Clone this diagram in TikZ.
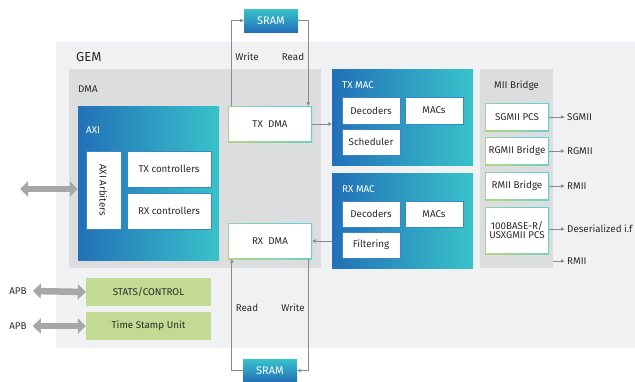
\documentclass[tikz,border=0pt]{standalone}
\usepackage{fontspec}
\setmainfont{Fira Sans}
\usetikzlibrary{arrows.meta,calc}
\definecolor{gembg}{HTML}{F0F1F3}
\definecolor{dmabg}{HTML}{DCDDDF}
\definecolor{gblue}{HTML}{2270B8}
\definecolor{gteal}{HTML}{38C3CB}
\definecolor{bgreen}{HTML}{A9D58A}
\definecolor{bteal}{HTML}{5ECFD8}
\definecolor{ibord}{HTML}{3D86C6}
\definecolor{boxgreen}{HTML}{C2DA92}
\definecolor{arrowgray}{HTML}{A6A7A9}
\definecolor{linegray}{HTML}{8A8A8A}
\definecolor{txt}{HTML}{2B2B2B}
\begin{document}
\begin{tikzpicture}[x=1pt,y=-1pt,font=\fontsize{9.8}{10.5}\selectfont,text=txt,
  area/.style={fill=#1,draw=none,inner sep=0pt},
  grad/.style={left color=gblue,right color=gteal,draw=none,inner sep=0pt},
  sramgrad/.style={top color=gteal,bottom color=gblue,draw=none,inner sep=0pt,text=white,minimum width=54pt,minimum height=23pt,font=\fontsize{11}{12}\selectfont},
  inbox/.style={fill=white,draw=ibord,line width=0.7pt,inner sep=0pt,align=center},
  gbox/.style={inner sep=0pt,align=center,left color=bgreen,right color=bteal,shading angle=135,
    path picture={\fill[white] ([shift={(1.3pt,-1.3pt)}]path picture bounding box.north west) rectangle ([shift={(-1.3pt,1.3pt)}]path picture bounding box.south east);}},
  greenbox/.style={fill=boxgreen,draw=none,inner sep=0pt,minimum width=125pt,minimum height=28pt},
  lbl/.style={inner sep=0pt},
  conn/.style={draw=linegray,line width=0.8pt,-{Triangle[length=3.5pt,width=3.5pt]}},
  bigarrow/.style={draw=arrowgray,line width=6.5pt,{Triangle[length=8pt,width=15pt]}-{Triangle[length=8pt,width=15pt]}}]
\useasboundingbox (0,0) rectangle (635,381);
% backgrounds
\node[area=gembg,minimum width=579pt,minimum height=306pt] (gem) at (345.5,195) {};
\node[lbl,anchor=west,font=\fontsize{13}{14}\selectfont] (gemlbl) at (76,57) {GEM};
\node[area=dmabg,minimum width=252pt,minimum height=199pt] (dma) at (195,168.5) {};
\node[lbl,anchor=west] (dmalbl) at (78,89) {DMA};
% AXI
\node[grad,minimum width=141pt,minimum height=154pt] (axi) at (148.5,183) {};
\node[lbl,anchor=west,text=white] (axilbl) at (86,130) {AXI};
\node[inbox,minimum width=35pt,minimum height=78pt] (arb) at (103.5,190) {\rotatebox{-90}{AXI Arbiters}};
\node[inbox,minimum width=84pt,minimum height=36pt] (txc) at (169,169) {TX controllers};
\node[inbox,minimum width=84pt,minimum height=36pt] (rxc) at (169,211) {RX controllers};
% DMA engines
\node[gbox,minimum width=84pt,minimum height=36pt] (txdma) at (270,124) {TX~~DMA};
\node[gbox,minimum width=84pt,minimum height=36pt] (rxdma) at (270,241) {RX~~DMA};
\node[sramgrad] (sramt) at (271,20.5) {SRAM};
\node[sramgrad] (sramb) at (270,370.5) {SRAM};
% TX MAC
\node[grad,minimum width=141pt,minimum height=96pt] (txmac) at (402.5,117) {};
\node[lbl,anchor=west,text=white] (txmaclbl) at (342,85) {TX MAC};
\node[inbox,minimum width=58pt,minimum height=27pt] (txdec) at (371,110.5) {Decoders};
\node[inbox,minimum width=58pt,minimum height=27pt] (txmacs) at (434,110.5) {MACs};
\node[inbox,minimum width=58pt,minimum height=26pt] (txsch) at (371,142) {Scheduler};
% RX MAC
\node[grad,minimum width=141pt,minimum height=95pt] (rxmac) at (402.5,220.5) {};
\node[lbl,anchor=west,text=white] (rxmaclbl) at (342,189) {RX MAC};
\node[inbox,minimum width=58pt,minimum height=26pt] (rxdec) at (371,214) {Decoders};
\node[inbox,minimum width=58pt,minimum height=26pt] (rxmacs) at (434,214) {MACs};
\node[inbox,minimum width=58pt,minimum height=26pt] (rxfil) at (371,245) {Filtering};
% MII bridge
\node[area=dmabg,minimum width=73pt,minimum height=199pt] (mii) at (516.5,168.5) {};
\node[lbl] (miilbl) at (516.5,86) {MII Bridge};
\node[gbox,minimum width=64pt,minimum height=28pt] (sgmii) at (517,117) {SGMII PCS};
\node[gbox,minimum width=64pt,minimum height=28pt] (rgmii) at (517,151) {RGMII Bridge};
\node[gbox,minimum width=64pt,minimum height=28pt] (rmii) at (517,186) {RMII Bridge};
\node[gbox,minimum width=64pt,minimum height=47pt,font=\fontsize{9.8}{9}\selectfont] (usx) at (517,230.5) {100BASE-R/\\USXGMII PCS};
\node[lbl,anchor=west] (o1) at (567,117) {SGMII};
\node[lbl,anchor=west] (o2) at (567,151) {RGMII};
\node[lbl,anchor=west] (o3) at (567,186) {RMII};
\node[lbl,anchor=west] (o4) at (567,229) {Deserialized i.f};
\node[lbl,anchor=west] (o5) at (567,261) {RMII};
\draw[conn] (sgmii.east) -- ([xshift=-2.5pt]o1.west);
\draw[conn] (rgmii.east) -- ([xshift=-2.5pt]o2.west);
\draw[conn] (rmii.east) -- ([xshift=-2.5pt]o3.west);
\draw[conn] (o4.west -| usx.east) -- ([xshift=-2.5pt]o4.west);
\draw[conn] (o5.west -| mii.east) -- ([xshift=-2.5pt]o5.west);
% stats
\node[greenbox] (stats) at (148.5,292) {STATS/CONTROL};
\node[greenbox] (tsu) at (148.5,326) {Time Stamp Unit};
\node[lbl] (apb1) at (18,291) {APB};
\node[lbl] (apb2) at (18,326) {APB};
\draw[bigarrow] ([xshift=6pt]apb1.east) -- (stats.west);
\draw[bigarrow] ([xshift=6pt]apb2.east) -- (tsu.west);
\coordinate (axiL) at (20,189);
\draw[bigarrow] (axiL) -- (axiL -| axi.west);
% connectors
\draw[conn] (txdma.east) -- (txdma.east -| txmac.west);
\draw[conn] (rxdma.east -| rxmac.west) -- (rxdma.east);
\draw[conn] ([xshift=4pt]txdma.north west) |- (sramt.west);
\draw[conn] (sramt.east) -| ([xshift=-4pt]txdma.north east);
\draw[conn] (sramb.west) -| ([xshift=4pt]rxdma.south west);
\draw[conn] ([xshift=-4pt]rxdma.south east) |- (sramb.east);
\node[lbl] (w1) at (247,57) {Write};
\node[lbl] (r1) at (293,57) {Read};
\node[lbl] (r2) at (247,308) {Read};
\node[lbl] (w2) at (293,308) {Write};
\end{tikzpicture}
\end{document}
